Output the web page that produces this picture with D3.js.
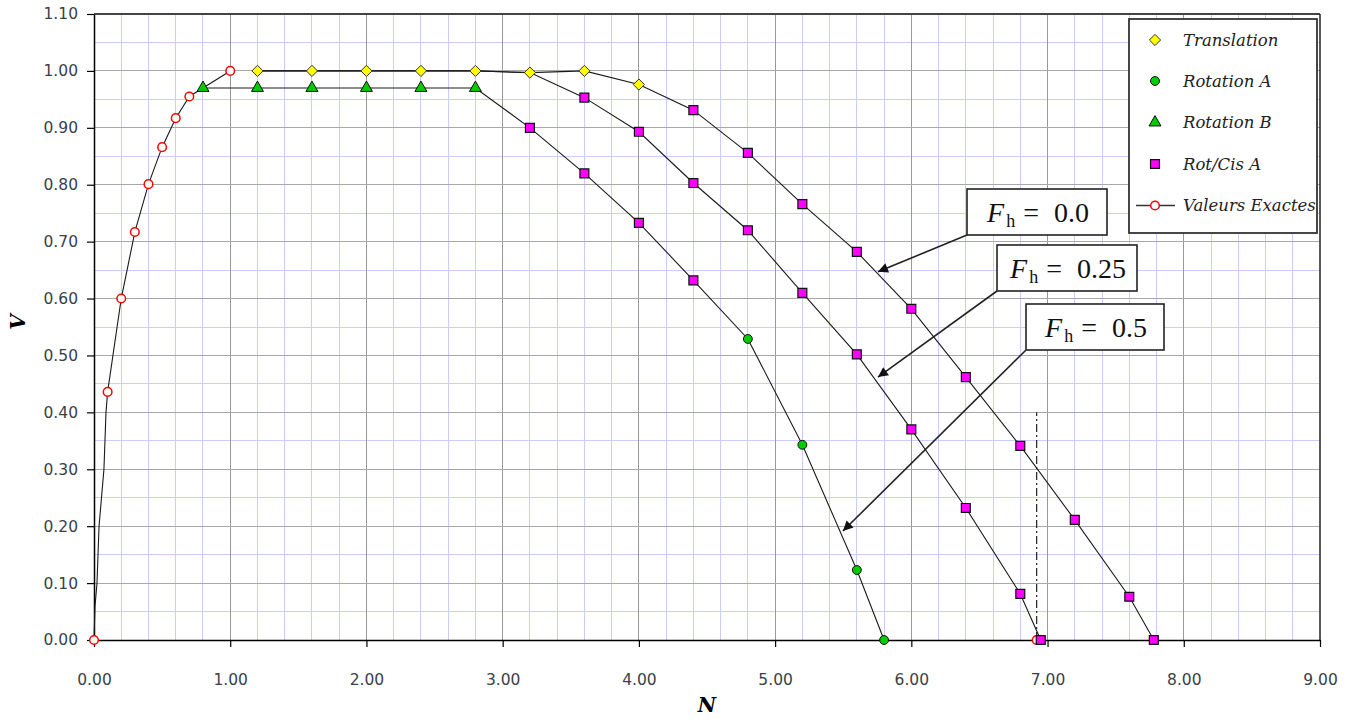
<!DOCTYPE html>
<html>
<head>
<meta charset="utf-8">
<script src="https://cdn.jsdelivr.net/npm/d3@7"></script>
<style>
  html, body { margin: 0; padding: 0; background: #ffffff; }
  svg { display: block; }
</style>
</head>
<body>
<svg id="chart" width="1354" height="719"></svg>
<script>
// ---------------- DATA ----------------
const xTickValues = [0, 1, 2, 3, 4, 5, 6, 7, 8, 9];
const xTickLabels = ["0.00","1.00","2.00","3.00","4.00","5.00","6.00","7.00","8.00","9.00"];
const yTickValues = [0, 0.1, 0.2, 0.3, 0.4, 0.5, 0.6, 0.7, 0.8, 0.9, 1.0, 1.1];
const yTickLabels = ["0.00","0.10","0.20","0.30","0.40","0.50","0.60","0.70","0.80","0.90","1.00","1.10"];

const seriesNames = ["Translation", "Rotation A", "Rotation B", "Rot/Cis A", "Valeurs Exactes"];

const translationN = [1.2, 1.6, 2.0, 2.4, 2.8, 3.2, 3.6, 4.0];
const translationV = [1.0, 1.0, 1.0, 1.0, 1.0, 0.997, 1.0, 0.976];

const rotationAN = [4.8, 5.2, 5.6, 5.8];
const rotationAV = [0.529, 0.343, 0.123, 0.0];

const rotationBN = [0.8, 1.2, 1.6, 2.0, 2.4, 2.8];
const rotationBV = [0.97, 0.97, 0.97, 0.97, 0.97, 0.97];

// Rot/Cis A, one branch per F_h value
const rotCisF00N = [4.4, 4.8, 5.2, 5.6, 6.0, 6.4, 6.8, 7.2, 7.6, 7.78];
const rotCisF00V = [0.931, 0.856, 0.766, 0.682, 0.582, 0.462, 0.341, 0.211, 0.076, 0.0];
const rotCisF025N = [3.6, 4.0, 4.4, 4.8, 5.2, 5.6, 6.0, 6.4, 6.8, 6.95];
const rotCisF025V = [0.953, 0.893, 0.803, 0.72, 0.61, 0.502, 0.37, 0.232, 0.081, 0.0];
const rotCisF05N = [3.2, 3.6, 4.0, 4.4];
const rotCisF05V = [0.90, 0.82, 0.733, 0.632];

// Valeurs exactes (markers)
const exactN = [0, 0.1, 0.2, 0.3, 0.4, 0.5, 0.6, 0.7, 1.0, 6.92];
const exactV = [0, 0.436, 0.600, 0.717, 0.801, 0.866, 0.917, 0.955, 1.0, 0.0];
// exact curve traced near the origin (no markers)
const exactCurveN = [0, 0.007, 0.022, 0.037, 0.073, 0.088, 0.1];
const exactCurveV = [0, 0.058, 0.1, 0.2, 0.3, 0.4, 0.436];

// vertical dash-dot reference
const refLineN = 6.92;
const refLineV = [0, 0.40];

// annotations
const annotLabels = ["0.0", "0.25", "0.5"];
const annotTipN = [5.755, 5.755, 5.498];
const annotTipV = [0.647, 0.462, 0.1915];

// ---------------- LAYOUT ----------------
const svg = d3.select("#chart");
const pL = 94, pR = 1320, pT = 14, pB = 640;
const x = d3.scaleLinear().domain([0, 9]).range([pL, pR]);
const y = d3.scaleLinear().domain([0, 1.1]).range([pB, pT]);

const pts = (N, V) => N.map((n, i) => [n, V[i]]);
const line = d3.line().x(d => x(d[0])).y(d => y(d[1]));

// plot background
svg.append("rect").attr("x", pL).attr("y", pT).attr("width", pR - pL).attr("height", pB - pT).attr("fill", "#ffffff");

// minor grid
const grid = svg.append("g");
grid.selectAll(".vminor").data(d3.range(0, 45).map(i => i * 0.2).filter(v => Math.abs(v - Math.round(v)) > 1e-6))
  .join("line").attr("x1", d => x(d)).attr("x2", d => x(d)).attr("y1", pT).attr("y2", pB)
  .attr("stroke", "#ccccff").attr("stroke-width", 1).attr("shape-rendering", "crispEdges");
grid.selectAll(".hminor").data(d3.range(0, 11).map(i => i * 0.1 + 0.05))
  .join("line").attr("x1", pL).attr("x2", pR).attr("y1", d => y(d)).attr("y2", d => y(d))
  .attr("stroke", "#ccccff").attr("stroke-width", 1).attr("shape-rendering", "crispEdges");
// major grid
grid.selectAll(".vmajor").data(xTickValues.slice(1, -1))
  .join("line").attr("x1", d => x(d)).attr("x2", d => x(d)).attr("y1", pT).attr("y2", pB)
  .attr("stroke", "#999999").attr("stroke-width", 1).attr("shape-rendering", "crispEdges");
grid.selectAll(".hmajor").data(yTickValues.slice(1, -1))
  .join("line").attr("x1", pL).attr("x2", pR).attr("y1", d => y(d)).attr("y2", d => y(d))
  .attr("stroke", "#a8a8a8").attr("stroke-width", 1).attr("shape-rendering", "crispEdges");

// frame
svg.append("line").attr("x1", pL).attr("x2", pR).attr("y1", pT).attr("y2", pT).attr("stroke", "#444").attr("stroke-width", 2);
svg.append("line").attr("x1", pR).attr("x2", pR).attr("y1", pT).attr("y2", pB).attr("stroke", "#222").attr("stroke-width", 1.5);

// axes
const xAxis = d3.axisBottom(x).tickValues(xTickValues).tickFormat((d, i) => xTickLabels[i]).tickSize(7).tickSizeOuter(0).tickPadding(27);
const yAxis = d3.axisLeft(y).tickValues(yTickValues).tickFormat((d, i) => yTickLabels[i]).tickSize(7).tickSizeOuter(0).tickPadding(9);
const gx = svg.append("g").attr("transform", `translate(0,${pB})`).call(xAxis);
const gy = svg.append("g").attr("transform", `translate(${pL},0)`).call(yAxis);
[gx, gy].forEach(g => {
  g.select(".domain").attr("stroke", "#000").attr("stroke-width", 1.5);
  g.selectAll(".tick line").attr("stroke", "#000").attr("stroke-width", 1.2);
  g.selectAll(".tick text").attr("font-family", "DejaVu Sans, Verdana, sans-serif").attr("font-size", 15.5).attr("fill", "#3a3f4a");
});

// axis titles
svg.append("text").attr("x", 707).attr("y", 712).attr("text-anchor", "middle")
  .attr("font-family", "DejaVu Serif, serif").attr("font-style", "italic").attr("font-weight", "bold").attr("font-size", 20).attr("fill", "#000").text("N");
svg.append("text").attr("transform", "translate(25,322) rotate(-90)").attr("text-anchor", "middle")
  .attr("font-family", "DejaVu Serif, serif").attr("font-style", "italic").attr("font-weight", "bold").attr("font-size", 20).attr("fill", "#000").text("V");

// ---------------- LINES ----------------
const plot = svg.append("g");
const lineExact = pts(exactCurveN, exactCurveV).concat(pts(exactN.slice(2, 9), exactV.slice(2, 9)));
const lineF00 = pts(translationN, translationV).concat(pts(rotCisF00N, rotCisF00V));
const lineF025 = pts(translationN.slice(0, 6), translationV.slice(0, 6)).concat(pts(rotCisF025N, rotCisF025V));
const lineF05 = pts(rotationBN, rotationBV).concat(pts(rotCisF05N, rotCisF05V)).concat(pts(rotationAN, rotationAV));
[lineExact, lineF00, lineF025, lineF05].forEach(d => {
  plot.append("path").attr("d", line(d)).attr("fill", "none").attr("stroke", "#1a1a1a").attr("stroke-width", 1.1);
});

// dash-dot reference line
plot.append("line").attr("x1", x(refLineN)).attr("x2", x(refLineN)).attr("y1", y(refLineV[0])).attr("y2", y(refLineV[1]))
  .attr("stroke", "#222").attr("stroke-width", 1.2).attr("stroke-dasharray", "8,3,2,3");

// ---------------- MARKERS ----------------
const sym = {
  diamond: d3.symbol().type(d3.symbolDiamond2).size(80),
  circle: d3.symbol().type(d3.symbolCircle).size(62),
  triangle: d3.symbol().type(d3.symbolTriangle).size(62),
  square: d3.symbol().type(d3.symbolSquare).size(80),
  open: d3.symbol().type(d3.symbolCircle).size(58)
};
function markers(data, s, fill, stroke, sw) {
  plot.append("g").selectAll("path").data(data).join("path")
    .attr("transform", d => `translate(${x(d[0])},${y(d[1])})`)
    .attr("d", s).attr("fill", fill).attr("stroke", stroke).attr("stroke-width", sw);
}
markers(pts(exactN, exactV), sym.open, "#ffffff", "#ff0000", 1.5);
markers(pts(rotationBN, rotationBV), sym.triangle, "#00cc00", "#111", 1);
markers(pts(translationN, translationV), sym.diamond, "#ffff00", "#333", 1);
markers(pts(rotCisF00N, rotCisF00V).concat(pts(rotCisF025N, rotCisF025V)).concat(pts(rotCisF05N, rotCisF05V)), sym.square, "#ff00ff", "#111", 1.2);
markers(pts(rotationAN, rotationAV), sym.circle, "#00cc00", "#111", 1);

// ---------------- ANNOTATIONS ----------------
const defs = svg.append("defs");
defs.append("marker").attr("id", "arrow").attr("viewBox", "0 0 10 10").attr("refX", 10).attr("refY", 5)
  .attr("markerWidth", 13).attr("markerHeight", 10).attr("markerUnits", "userSpaceOnUse").attr("orient", "auto")
  .append("path").attr("d", "M0,0 L10,5 L0,10 Z").attr("fill", "#111");

const boxes = [
  { x: 967, y: 189, w: 140, h: 46 },
  { x: 997, y: 245, w: 140, h: 46 },
  { x: 1026, y: 304, w: 138, h: 46 }
];
const ann = svg.append("g");
boxes.forEach((b, i) => {
  ann.append("line").attr("x1", b.x).attr("y1", b.y + b.h).attr("x2", x(annotTipN[i])).attr("y2", y(annotTipV[i]))
    .attr("stroke", "#222").attr("stroke-width", 1.6).attr("marker-end", "url(#arrow)");
  ann.append("rect").attr("x", b.x).attr("y", b.y).attr("width", b.w).attr("height", b.h)
    .attr("fill", "#fff").attr("stroke", "#222").attr("stroke-width", 1.6);
  const t = ann.append("text").attr("x", b.x + b.w / 2 + 1).attr("y", b.y + 33).attr("text-anchor", "middle")
    .attr("font-family", "Liberation Serif, DejaVu Serif, serif").attr("font-size", 28).attr("fill", "#111");
  t.append("tspan").attr("font-style", "italic").text("F");
  t.append("tspan").attr("font-size", 18).attr("dy", 5).attr("dx", 2).text("h");
  t.append("tspan").attr("dy", -5).attr("dx", 8).text("=");
  t.append("tspan").attr("dx", 15).text(annotLabels[i]);
});

// ---------------- LEGEND ----------------
const lg = svg.append("g");
const lgBox = { x: 1129, y: 19, w: 188, h: 214 };
defs.append("clipPath").attr("id", "lgclip").append("rect").attr("x", lgBox.x).attr("y", lgBox.y).attr("width", lgBox.w - 1).attr("height", lgBox.h);
lg.append("rect").attr("x", lgBox.x).attr("y", lgBox.y).attr("width", lgBox.w).attr("height", lgBox.h)
  .attr("fill", "#fff").attr("stroke", "#333").attr("stroke-width", 1.8);
const lgY = [40, 81, 122.5, 164, 205.5];
const lgSym = [
  [sym.diamond, "#ffff00", "#333", 1],
  [sym.circle, "#00cc00", "#111", 1],
  [sym.triangle, "#00cc00", "#111", 1],
  [sym.square, "#ff00ff", "#111", 1.2],
  [sym.open, "#ffffff", "#ff0000", 1.5]
];
lg.append("line").attr("x1", 1136).attr("x2", 1175).attr("y1", lgY[4]).attr("y2", lgY[4]).attr("stroke", "#333").attr("stroke-width", 1.5);
const lgClip = lg.append("g").attr("clip-path", "url(#lgclip)");
seriesNames.forEach((name, i) => {
  const s = lgSym[i];
  lg.append("path").attr("transform", `translate(1155,${lgY[i]})`).attr("d", s[0]).attr("fill", s[1]).attr("stroke", s[2]).attr("stroke-width", s[3]);
  lgClip.append("text").attr("x", 1183).attr("y", lgY[i] + 5.5).attr("font-family", "DejaVu Serif, serif").attr("font-style", "italic")
    .attr("font-size", 16.5).attr("fill", "#222").text(name);
});
</script>
</body>
</html>
